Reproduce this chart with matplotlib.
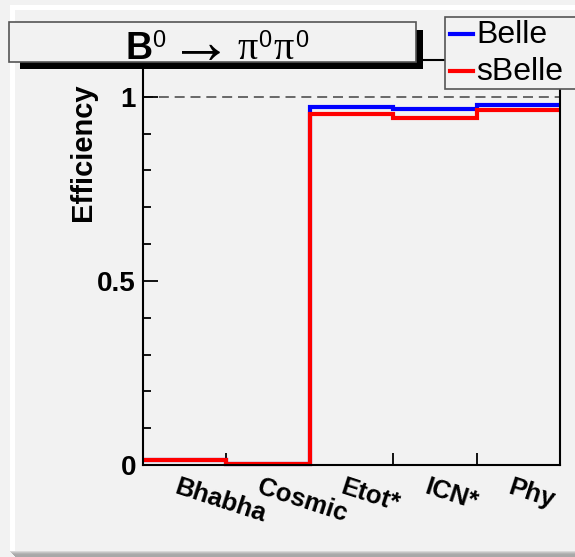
import matplotlib
matplotlib.use("Agg")
import matplotlib.pyplot as plt
from matplotlib.patches import Rectangle
from matplotlib.lines import Line2D
import numpy as np

# ---- data ----
categories = ["Bhabha", "Cosmic", "Etot*", "ICN*", "Phy"]
belle = [0.013, 0.004, 0.972, 0.966, 0.977]
sbelle = [0.013, 0.004, 0.953, 0.942, 0.965]
series_names = ["Belle", "sBelle"]
y_ticks = [0, 0.5, 1]
y_ticklabels = ["0", "0.5", "1"]
y_max = 1.1

W, H = 575, 557
BG = "#f2f2f2"
SANS = "Liberation Sans"

fig = plt.figure(figsize=(W / 100, H / 100), dpi=100, facecolor=BG)


def fx(x):
    return x / W


def fy(y):
    return 1 - y / H


def box(x0, y0, x1, y1, **kw):
    """Rectangle given in pixel coordinates (origin top-left)."""
    r = Rectangle((fx(x0), fy(y1)), (x1 - x0) / W, (y1 - y0) / H,
                  transform=fig.transFigure, **kw)
    fig.add_artist(r)
    return r


# canvas bevel
box(10, 5, 15, 552, facecolor="white", edgecolor="none", zorder=0)
box(10, 5, W + 5, 10, facecolor="white", edgecolor="none", zorder=0)
for i, c in enumerate(["#d8d8d8", "#c4c4c4", "#b4b4b4", "#aaaaaa", "#a8a8a8", "#a8a8a8", "#a8a8a8"]):
    box(10 + i, 551 + i, W + 5, 552 + i, facecolor=c, edgecolor="none", zorder=0)

# plot frame
ax_l, ax_r, ax_t, ax_b = 143, 560, 60, 465
ax = fig.add_axes([fx(ax_l), fy(ax_b), (ax_r - ax_l) / W, (ax_b - ax_t) / H])
ax.set_facecolor(BG)
edges = np.arange(len(categories) + 1)
ax.set_xlim(edges[0], edges[-1])
ax.set_ylim(0, y_max)

ax.axhline(1.0, color="#505050", lw=1.2, linestyle=(0, (6, 3.5)), zorder=1)
ax.stairs(belle, edges, baseline=None, color="#0000ff", lw=3.0, zorder=2, clip_on=False)
ax.stairs(sbelle, edges, baseline=None, color="#ff0000", lw=3.0, zorder=3, clip_on=False)

for s in ax.spines.values():
    s.set_linewidth(1.5)
    s.set_color("black")
    s.set_zorder(4)

ax.set_xticks(edges[1:-1])
ax.set_xticklabels([])
ax.tick_params(axis="x", direction="in", length=9, width=1.3, top=False)
ax.set_yticks(y_ticks)
ax.set_yticklabels(y_ticklabels, fontsize=20, fontweight="bold", family=SANS)
ax.set_yticks(np.arange(0, y_max, 0.1), minor=True)
ax.tick_params(axis="y", which="major", direction="in", length=11, width=1.3, pad=5, right=False)
ax.tick_params(axis="y", which="minor", direction="in", length=6, width=1.3, right=False)

# category labels, slanted
for i, lab in enumerate(categories):
    xc = ax_l + (i + 0.5) * (ax_r - ax_l) / len(categories) - 6
    fig.text(fx(xc), fy(475), lab, rotation=-18, rotation_mode="anchor",
             ha="left", va="top", fontsize=18.5, fontweight="bold", family=SANS)

fig.text(fx(83), fy(152), "Efficiency", rotation=90, ha="center", va="center",
         fontsize=21, fontweight="bold", family=SANS)

# title box with shadow
box(20, 30, 423, 69, facecolor="black", edgecolor="none", zorder=10)
box(9, 22, 416, 62, facecolor=BG, edgecolor="#555555", lw=1.2, zorder=11)

# title: B^0 -> pi^0 pi^0 assembled from pieces (text, font, raise, gap before)
renderer = fig.canvas.get_renderer()
pieces = [
    ("B", dict(family=SANS, fontweight="bold", fontsize=27), 0, 0),
    ("0", dict(family=SANS, fontsize=17), -12, 0),
    ("\u2192", dict(family="Liberation Serif", fontsize=46), 4, 4),
    ("\u03c0", dict(family="Liberation Serif", fontsize=29), 0, 4),
    ("0", dict(family=SANS, fontsize=17), -12, 1),
    ("\u03c0", dict(family="Liberation Serif", fontsize=29), 0, 2),
    ("0", dict(family=SANS, fontsize=17), -12, 1),
]
base_x, base_y = 125, 59
x = base_x
for s, kw, dy, gap in pieces:
    x += gap
    t = fig.text(fx(x), fy(base_y + dy), s, ha="left", va="baseline", zorder=12, **kw)
    x += t.get_window_extent(renderer).width

# legend box
box(445, 17, W + 10, 89, facecolor=BG, edgecolor="#555555", lw=1.2, zorder=10, clip_on=False)
for name, col, yy in [(series_names[0], "#0000ff", 34), (series_names[1], "#ff0000", 71)]:
    fig.add_artist(Line2D([fx(450), fx(473)], [fy(yy), fy(yy)], transform=fig.transFigure,
                          color=col, lw=3.0, zorder=11))
    fig.text(fx(476), fy(yy + 1), name, ha="left", va="center", fontsize=23,
             family=SANS, zorder=12)

fig.savefig("out.png", dpi=100, facecolor=BG)
